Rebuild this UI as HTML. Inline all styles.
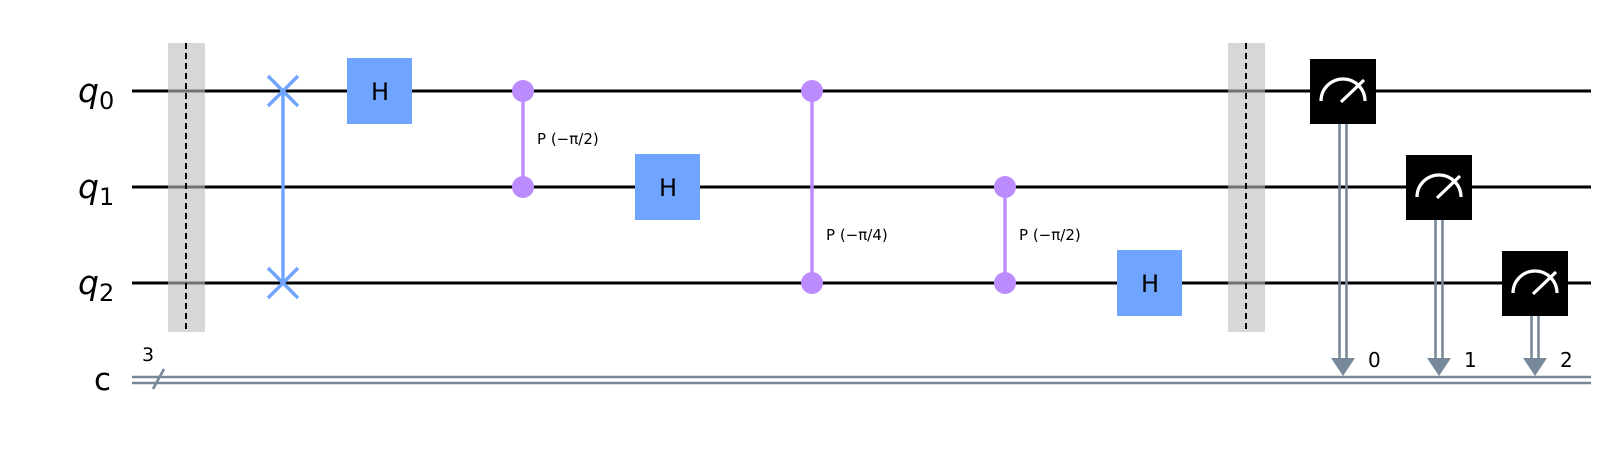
<!DOCTYPE html>
<html><head><meta charset="utf-8"><style>
html,body{margin:0;padding:0;background:#fff;}
svg{display:block;}
text{font-family:"DejaVu Sans","Liberation Sans",sans-serif;}
</style></head><body>
<svg id="c" width="1613" height="453" viewBox="0 0 1613 453" xmlns="http://www.w3.org/2000/svg"></svg>
<script>
const qubitLabels = ["0","1","2"];
const wireY = [91, 187, 283];
const barrierCols = [186, 1246];
const swapGate = {x:283, a:0, b:2};
const hGates = [{x:380,q:0},{x:668,q:1},{x:1150,q:2}];
const cpGates = [{x:523,c:0,t:1,label:"P (\u2212\u03c0/2)"},{x:812,c:0,t:2,label:"P (\u2212\u03c0/4)"},{x:1005,c:1,t:2,label:"P (\u2212\u03c0/2)"}];
const measures = [{x:1343,q:0,bit:"0"},{x:1439,q:1,bit:"1"},{x:1535,q:2,bit:"2"}];
const NS="http://www.w3.org/2000/svg";
const svg=document.getElementById('c');
function mk(tag,attrs,parent){const e=document.createElementNS(NS,tag);for(const k in attrs)e.setAttribute(k,attrs[k]);(parent||svg).appendChild(e);return e;}
const cY=380;
wireY.forEach((y,i)=>{
  const l=mk('line',{x1:132,y1:y,x2:1591,y2:y,stroke:'#000','stroke-width':3});
  
  
  const t=mk('text',{x:78,y:y+11,'font-size':33,'font-style':'italic'});
  
  
  t.textContent='q';
  const s=mk('tspan',{'font-size':24,'font-style':'normal',dy:7},t);s.textContent=qubitLabels[i];
});
[cY-3,cY+3].forEach(y=>{const l=mk('line',{x1:132,y1:y,x2:1591,y2:y,stroke:'#778899','stroke-width':2.6});

});
const cl=mk('text',{x:94,y:cY+10,'font-size':31});cl.textContent='c';


const sl=mk('line',{x1:153,y1:389,x2:164,y2:369,stroke:'#778899','stroke-width':2.6});


const n3=mk('text',{x:142,y:361,'font-size':19});n3.textContent='3';


barrierCols.forEach((x,i)=>{
  const r=mk('rect',{x:x-18,y:43,width:37,height:289,fill:'#bdbdbd','fill-opacity':0.6});
  
  
  mk('line',{x1:x,y1:43,x2:x,y2:332,stroke:'#000','stroke-width':2,'stroke-dasharray':'6,4'});
});
{const g=mk('g',{stroke:'#6fa4ff','stroke-width':3.4});


mk('line',{x1:swapGate.x,y1:wireY[swapGate.a],x2:swapGate.x,y2:wireY[swapGate.b]},g);
[swapGate.a,swapGate.b].forEach(q=>{const y=wireY[q],d=15;
mk('line',{x1:swapGate.x-d,y1:y-d,x2:swapGate.x+d,y2:y+d},g);
mk('line',{x1:swapGate.x-d,y1:y+d,x2:swapGate.x+d,y2:y-d},g);});}
hGates.forEach((h,i)=>{const y=wireY[h.q];
  const r=mk('rect',{x:h.x-33,y:y-33,width:65,height:66,fill:'#6fa4ff'});
  
  
  const t=mk('text',{x:h.x,y:y+9,'font-size':24,'text-anchor':'middle'});t.textContent='H';
});
cpGates.forEach((g,i)=>{const y1=wireY[g.c],y2=wireY[g.t];
  const grp=mk('g',{});
  
  
  mk('line',{x1:g.x,y1:y1,x2:g.x,y2:y2,stroke:'#bb8bff','stroke-width':3.4},grp);
  mk('circle',{cx:g.x,cy:y1,r:11,fill:'#bb8bff'},grp);
  mk('circle',{cx:g.x,cy:y2,r:11,fill:'#bb8bff'},grp);
  const t=mk('text',{x:g.x+14,y:y2-43,'font-size':15},grp);t.textContent=g.label;
});
measures.forEach((m,i)=>{const y=wireY[m.q];
  const grp=mk('g',{});
  
  
  mk('line',{x1:m.x-3.5,y1:y+33,x2:m.x-3.5,y2:cY-18,stroke:'#778899','stroke-width':2.6},grp);
  mk('line',{x1:m.x+3.5,y1:y+33,x2:m.x+3.5,y2:cY-18,stroke:'#778899','stroke-width':2.6},grp);
  mk('polygon',{points:`${m.x-12},${cY-22} ${m.x+12},${cY-22} ${m.x},${cY-4}`,fill:'#778899'},grp);
  mk('rect',{x:m.x-33,y:y-32,width:66,height:65,fill:'#000'},grp);
  mk('path',{d:`M${m.x-22},${y+10} A22,22 0 0 1 ${m.x+22},${y+10}`,fill:'none',stroke:'#fff','stroke-width':3.2},grp);
  mk('line',{x1:m.x-2,y1:y+11,x2:m.x+21,y2:y-11,stroke:'#fff','stroke-width':3.2},grp);
  const t=mk('text',{x:m.x+25,y:cY-13,'font-size':20},grp);t.textContent=m.bit;
});
</script>
</body></html>
